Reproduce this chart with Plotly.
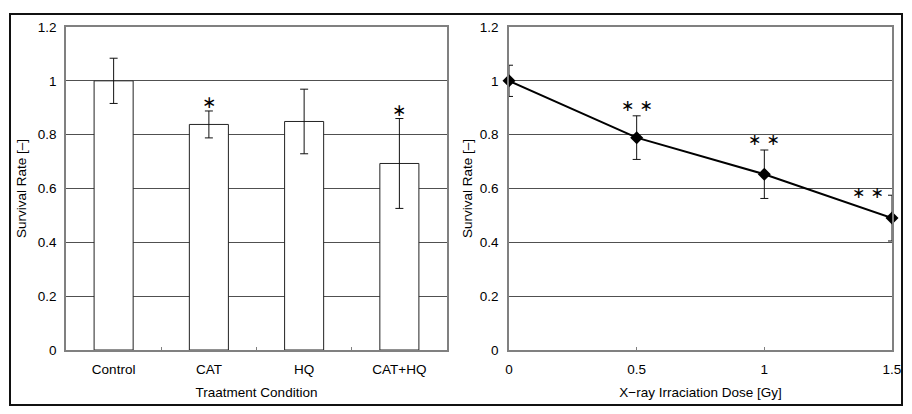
import plotly.graph_objects as go

# ---- data ----
treatments = ["Control", "CAT", "HQ", "CAT+HQ"]
treat_rate = [1.0, 0.838, 0.849, 0.693]
treat_err = [0.084, 0.050, 0.120, 0.167]
treat_sig = ["", "∗", "", "∗"]

doses = [0, 0.5, 1.0, 1.5]
dose_rate = [1.0, 0.789, 0.653, 0.490]
dose_err = [0.058, 0.081, 0.090, 0.085]
dose_sig = ["", "∗ ∗", "∗ ∗", "∗ ∗"]

y_ticks = [0, 0.2, 0.4, 0.6, 0.8, 1.0, 1.2]
y_ticktext = ["0", "0.2", "0.4", "0.6", "0.8", "1", "1.2"]
x_ticks = [0, 0.5, 1.0, 1.5]
x_ticktext = ["0", "0.5", "1", "1.5"]

FONT = "Liberation Sans, Arial, sans-serif"
STAR = "DejaVu Sans"
OFF = 8                      # page body margin
W, H = 912 - OFF, 414 - 2 * OFF
FS = 13.5


def px(x):
    return (x - OFF) / W


def py(y):
    return (H - (y - OFF)) / H


fig = go.Figure()

fig.add_trace(go.Bar(
    x=treatments, y=treat_rate,
    marker=dict(color="white", line=dict(color="#222", width=1)),
    error_y=dict(type="data", array=treat_err, color="#111", thickness=1, width=4),
    xaxis="x", yaxis="y", showlegend=False,
))

fig.add_trace(go.Scatter(
    x=doses, y=dose_rate, mode="lines+markers",
    line=dict(color="black", width=2),
    marker=dict(symbol="diamond", size=10, color="black"),
    error_y=dict(type="data", array=dose_err, color="#111", thickness=1, width=4),
    xaxis="x2", yaxis="y2", showlegend=False, cliponaxis=False,
))

# significance marks
for cat, v, e, s in zip(treatments, treat_rate, treat_err, treat_sig):
    if s:
        fig.add_annotation(x=cat, y=v + e, text=s, showarrow=False, xref="x", yref="y",
                           yanchor="bottom", yshift=-3,
                           font=dict(family=STAR, size=17, color="black"))
for i, (d, v, e, s) in enumerate(zip(doses, dose_rate, dose_err, dose_sig)):
    if s:
        last = i == len(doses) - 1
        fig.add_annotation(x=d, y=v + e, text=s, showarrow=False, xref="x2", yref="y2",
                           yanchor="bottom" if not last else "middle",
                           xanchor="right" if last else "center",
                           xshift=-6 if last else 0,
                           yshift=-1 if not last else 3,
                           font=dict(family=STAR, size=16, color="black"))

ydom = [py(350), py(27)]
axis_common = dict(showline=True, linecolor="#808080", linewidth=1.5, mirror=True,
                   automargin=False,
                   tickfont=dict(family=FONT, size=FS, color="black"))

fig.update_layout(
    width=W, height=H, margin=dict(l=0, r=0, t=0, b=0, autoexpand=False),
    paper_bgcolor="white", plot_bgcolor="white",
    font=dict(family=FONT, size=FS, color="black"),
    bargap=0.59,
    xaxis=dict(domain=[px(66), px(447)], tickson="boundaries", ticks="inside",
               ticklen=3, tickcolor="#808080", ticklabelstandoff=6,
               title=dict(text="Traatment Condition", font=dict(size=FS), standoff=12),
               **axis_common),
    yaxis=dict(domain=ydom, range=[0, 1.2], tickvals=y_ticks, ticktext=y_ticktext,
               showgrid=True, gridcolor="#505050", gridwidth=1, zeroline=False,
               ticks="", ticklabelstandoff=5,
               title=dict(text="Survival Rate [–]", font=dict(size=FS), standoff=8),
               anchor="x", **axis_common),
    xaxis2=dict(domain=[px(509), px(892)], range=[0, 1.5], tickvals=x_ticks,
                ticktext=x_ticktext, ticks="inside", ticklen=3, tickcolor="#808080",
                showgrid=False, zeroline=False, anchor="y2", ticklabelstandoff=6,
                title=dict(text="X\u2212ray Irraciation Dose [Gy]", font=dict(size=FS), standoff=12),
                **axis_common),
    yaxis2=dict(domain=ydom, range=[0, 1.2], tickvals=y_ticks, ticktext=y_ticktext,
                showgrid=True, gridcolor="#505050", gridwidth=1, zeroline=False,
                ticks="", anchor="x2", ticklabelstandoff=6,
                title=dict(text="Survival Rate [–]", font=dict(size=FS), standoff=4),
                **axis_common),
)

# outer frame
fig.add_shape(type="rect", xref="paper", yref="paper",
              x0=px(10), x1=px(902), y0=py(405), y1=py(14),
              line=dict(color="#111", width=2), fillcolor="rgba(0,0,0,0)", layer="below")

fig.write_html("out.html")
